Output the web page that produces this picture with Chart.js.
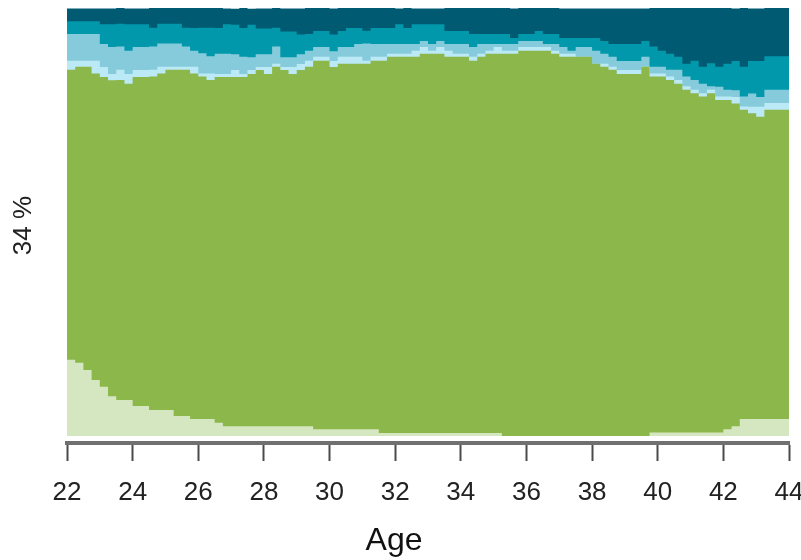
<!DOCTYPE html>
<html>
<head>
<meta charset="utf-8">
<script src="https://cdn.jsdelivr.net/npm/chart.js@4"></script>
<style>
  html, body { margin: 0; padding: 0; background: #ffffff; }
  canvas { display: block; }
</style>
</head>
<body>
<canvas id="chart" width="801" height="560"></canvas>
<script>
// Age at the start of each quarter
const ages = [22,22.25,22.5,22.75,23,23.25,23.5,23.75,24,24.25,24.5,24.75,25,25.25,25.5,25.75,
  26,26.25,26.5,26.75,27,27.25,27.5,27.75,28,28.25,28.5,28.75,29,29.25,29.5,29.75,
  30,30.25,30.5,30.75,31,31.25,31.5,31.75,32,32.25,32.5,32.75,33,33.25,33.5,33.75,
  34,34.25,34.5,34.75,35,35.25,35.5,35.75,36,36.25,36.5,36.75,37,37.25,37.5,37.75,
  38,38.25,38.5,38.75,39,39.25,39.5,39.75,40,40.25,40.5,40.75,41,41.25,41.5,41.75,
  42,42.25,42.5,42.75,43,43.25,43.5,43.75,44];

const tickAges = [22,24,26,28,30,32,34,36,38,40,42,44];

// Share of each state (%) per quarter, stacked bottom to top
const stateA = [18.5,17.8,17.1,15.4,13.1, 11.5,9.3,8.4,8.4,7.0, 7.0,6.1,6.1,6.1,4.7, 4.7,4.0,4.0,4.0,3.1,
  2.3,2.3,2.3,2.3,2.3, 2.3,2.3,2.3,2.3,2.3, 2.3,1.6,1.6,1.6,1.6, 1.6,1.6,1.6,1.6,0.7,
  0.7,0.7,0.7,0.7,0.7, 0.7,0.7,0.7,0.7,0.7, 0.7,0.7,0.7,0.7,0, 0,0,0,0,0,
  0,0,0,0,0, 0,0,0,0,0, 0,0,0.8,0.8,0.8, 0.8,0.8,0.8,0.8,0.8, 0.8,1.6,2.3,4.0,4.0, 4.0,4.0,4.0,4.0];

const stateB = [67.8,67.8,69.2,70.9,71.6, 72.4,73.8,74.8,73.9,76.9, 76.9,77.9,78.6,79.5,80.9, 80.9,80.7,80.0,79.2,80.8,
  81.6,81.6,81.6,82.3,83.2, 82.3,84.0,83.2,82.3,83.2, 84.0,86.1,86.1,84.6,85.4, 85.4,85.4,85.4,86.1,87.0,
  87.9,87.9,87.9,87.9,88.6, 88.6,88.6,87.9,87.9,87.9, 87.0,87.9,88.6,88.6,89.3, 89.3,90.0,90.0,90.0,90.0,
  89.3,88.6,88.6,88.6,88.6, 87.0,86.3,85.6,84.6,84.6, 84.6,86.3,83.2,83.2,82.4, 81.5,80.1,79.3,78.5,79.3,
  77.7,76.9,75.4,72.2,71.4, 70.6,72.2,72.2,72.2];

const stateC = [1.4,2.1,1.4,1.4,3.0, 2.3,1.5,2.4,2.3,1.6, 1.6,1.6,1.6,0.7,0.7, 0.7,1.6,0.7,1.5,0.7,
  0.7,1.6,0.7,0.9,0.7, 1.6,0.7,0.7,1.6,1.4, 1.4,0.9,0.9,1.4,1.6, 1.6,1.6,0.7,0.9,0.9,
  0.7,0.7,0.7,1.4,1.6, 0.7,1.6,1.4,0.7,0.7, 0.9,0.7,0.7,1.6,0.7, 0.7,0.9,0.9,0.9,0.9,
  0.7,0.7,0.7,0,0, 0,0.7,0.7,0.9,0.9, 0.9,0,0.7,0.7,0.8, 0.9,0.8,0.8,0.8,0.8,
  0.8,0.8,1.5,0.8,1.5, 2.3,1.6,1.6,1.6];

const stateD = [6.2,6.2,6.2,6.2,6.2, 5.4,6.3,5.4,5.4,5.4, 5.4,5.4,5.4,5.4,5.4, 4.7,3.7,4.7,4.0,4.7,
  4.7,3.7,4.0,3.0,3.0, 3.0,4.0,2.3,2.3,2.3, 2.3,2.3,2.3,2.3,2.3, 2.3,3.0,4.0,3.0,3.0,
  2.3,2.3,2.3,1.6,1.4, 1.6,1.4,1.6,2.3,2.3, 2.3,2.3,1.6,0.7,1.6, 1.6,1.4,1.4,1.4,0.7,
  1.6,1.6,0.7,2.3,2.3, 3.0,2.3,2.3,2.1,2.1, 2.1,2.3,1.6,1.6,1.6, 2.4,2.3,2.3,2.2,0.8,
  2.3,1.6,1.6,2.3,3.1, 2.3,3.1,3.1,3.1];

const stateE = [3.8,3.0,3.0,3.0,3.0, 4.6,5.3,5.3,6.2,5.3, 5.3,4.4,4.6,4.6,4.6, 4.4,5.3,6.0,6.7,6.0,
  6.9,6.9,6.7,7.6,6.0, 6.0,4.4,6.0,6.0,4.6, 3.9,3.7,3.7,3.9,3.7, 4.4,3.7,3.0,3.7,3.7,
  3.7,4.6,3.7,4.6,3.9, 4.6,3.9,3.0,3.0,3.0, 3.0,2.3,2.3,2.3,2.3, 1.4,1.6,1.6,2.3,2.3,
  2.3,2.1,3.0,2.1,2.1, 3.0,3.0,3.0,4.0,4.0, 4.0,3.7,4.7,3.7,3.7, 3.0,3.0,4.5,4.0,5.4,
  4.7,6.1,6.8,7.0,7.6, 8.4,7.8,7.8,7.8];

const stateF = [2.3,3.0,3.0,3.0,3.0, 3.7,3.7,3.7,3.7,3.7, 3.7,4.7,3.7,3.7,3.7, 4.7,4.7,4.7,4.7,4.7,
  3.7,3.7,4.7,3.7,4.7, 4.7,4.7,5.4,5.4,6.1, 6.1,5.4,5.4,6.1,5.4, 4.7,4.7,5.4,4.7,4.7,
  4.7,3.7,4.7,3.7,3.7, 3.7,3.7,5.4,5.4,5.4, 6.1,6.1,6.1,6.1,6.1, 6.9,6.1,6.1,5.4,6.1,
  6.1,6.9,6.9,6.9,6.9, 6.9,7.6,8.3,8.3,8.3, 8.3,7.6,9.0,10.0,10.7, 11.4,13.0,12.3,13.7,13.0,
  13.7,13.0,12.3,13.7,12.3, 12.3,11.4,11.4,11.4];

const stateLabels = ['State 1', 'State 2', 'State 3', 'State 4', 'State 5', 'State 6'];
const stateSeries = [stateA, stateB, stateC, stateD, stateE, stateF];
const stateColours = ['#d5e7c0', '#8cb74a', '#bbe9f5', '#86cbdb', '#0098aa', '#005a72'];

const xTitle = 'Age';
const yTitle = '34 %';

const FONT = "'Liberation Sans', Arial, Helvetica, sans-serif";

// Each stacked layer is filled down to the origin; lower layers are painted
// over higher ones, so neighbouring areas meet without hairline gaps.
const datasets = stateSeries.map((vals, i) => ({
  label: stateLabels[i],
  data: vals.map((v, j) => ({ x: ages[j], y: v })),
  backgroundColor: stateColours[i],
  borderColor: stateColours[i],
  borderWidth: 0,
  pointRadius: 0,
  pointHoverRadius: 0,
  stepped: 'after',
  fill: 'origin'
}));

// The x-axis title sits a little left of the plot centre
const xTitlePlugin = {
  id: 'xTitle',
  afterDraw(chart) {
    const { ctx, chartArea } = chart;
    const cx = (chartArea.left + chartArea.right) / 2 - 34;
    ctx.save();
    ctx.font = '32px ' + FONT;
    ctx.fillStyle = '#111111';
    ctx.textAlign = 'center';
    ctx.textBaseline = 'middle';
    ctx.fillText(xTitle, cx, chart.height - 19);
    ctx.restore();
  }
};

new Chart(document.getElementById('chart'), {
  type: 'line',
  data: { datasets },
  plugins: [xTitlePlugin],
  options: {
    responsive: false,
    animation: false,
    devicePixelRatio: 1,
    events: [],
    layout: { padding: { left: 0, right: 12, top: 8, bottom: 0 } },
    plugins: {
      legend: { display: false },
      tooltip: { enabled: false }
    },
    scales: {
      x: {
        type: 'linear',
        position: 'bottom',
        min: 22,
        max: 44,
        afterBuildTicks: (scale) => {
          scale.ticks = tickAges.map((v) => ({ value: v }));
        },
        afterFit: (scale) => {
          scale.height = 117;
          scale.paddingLeft = 0;
          scale.paddingRight = 0;
        },
        grid: {
          display: true,
          drawOnChartArea: false,
          drawTicks: true,
          tickLength: 18,
          tickColor: '#4a4a4a',
          tickWidth: 2
        },
        border: { display: true, color: '#707070', width: 4 },
        ticks: {
          padding: 16,
          color: '#222222',
          autoSkip: false,
          maxRotation: 0,
          font: { family: FONT, size: 26 },
          callback: (v) => String(v)
        },
        title: { display: false }
      },
      y: {
        stacked: true,
        min: -1.636,
        max: 100,
        afterFit: (scale) => { scale.width = 67; },
        grid: { display: false },
        border: { display: false },
        ticks: { display: false },
        title: {
          display: true,
          text: yTitle,
          color: '#222222',
          font: { family: FONT, size: 26 },
          padding: { top: 8, bottom: 0 }
        }
      }
    }
  }
});
</script>
</body>
</html>
